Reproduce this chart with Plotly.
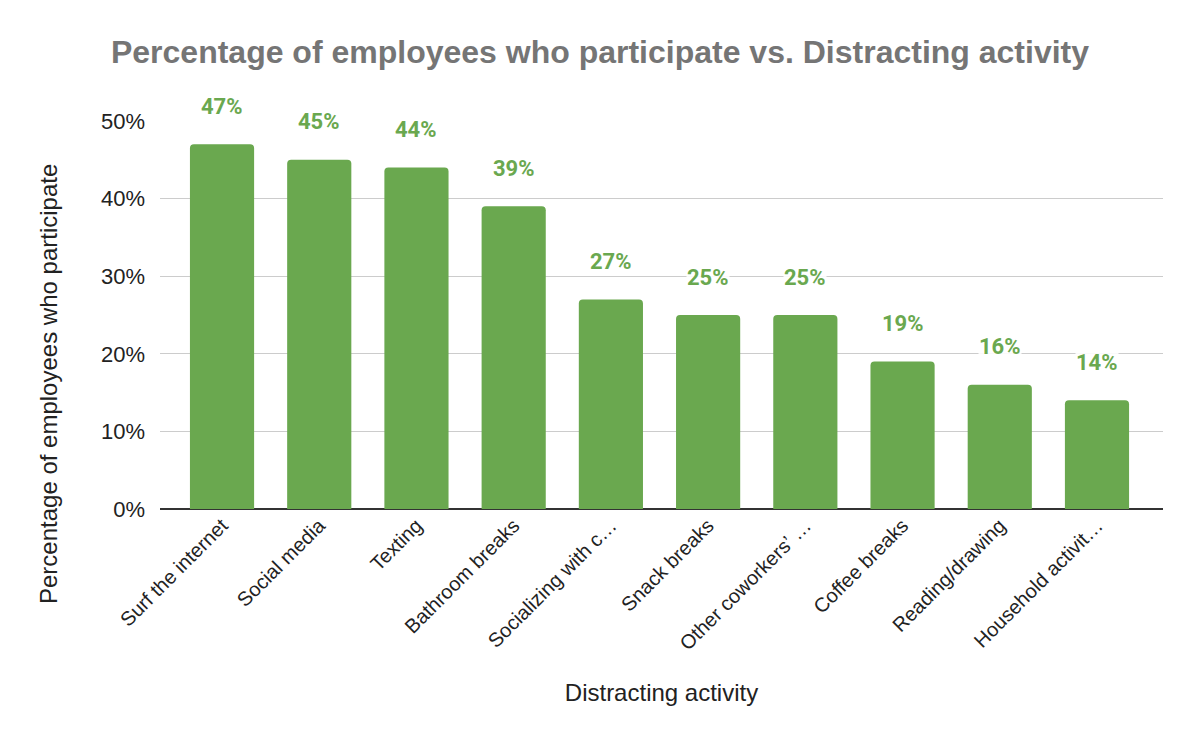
import plotly.graph_objects as go

categories = ["Surf the internet", "Social media", "Texting", "Bathroom breaks",
              "Socializing with c…", "Snack breaks", "Other coworkers’ …",
              "Coffee breaks", "Reading/drawing", "Household activit…"]
values = [0.47, 0.45, 0.44, 0.39, 0.27, 0.25, 0.25, 0.19, 0.16, 0.14]
tick_vals = [0, 0.1, 0.2, 0.3, 0.4, 0.5]
tick_text = ["0%", "10%", "20%", "30%", "40%", "50%"]

GREEN = "#6aa84f"
FONT = "Liberation Sans, Arial, sans-serif"

fig = go.Figure()
fig.add_trace(go.Bar(
    x=list(range(len(categories))), y=values,
    marker=dict(color=GREEN, line=dict(width=0)),
    width=0.66,
    hoverinfo="skip",
))

for i, v in enumerate(values):
    fig.add_annotation(
        x=i, y=v, text=f"<b>{round(v*100)}%</b>", showarrow=False,
        yshift=38, font=dict(family="Roboto, " + FONT, size=22, color=GREEN),
        bgcolor="rgba(255,255,255,0.9)", borderpad=0,
    )

# y-axis title (placed like the reference: centred lower than the plot area)
fig.add_annotation(
    text="Percentage of employees who participate", textangle=-90,
    xref="paper", yref="paper", x=(48 - 160) / 1003, y=(509 - 384) / 388,
    xanchor="center", yanchor="middle", showarrow=False,
    font=dict(family=FONT, size=24, color="#222222"),
)

fig.update_layout(
    width=1200, height=742,
    margin=dict(l=160, r=37, t=121, b=233),
    paper_bgcolor="white", plot_bgcolor="white",
    barcornerradius=4,
    showlegend=False,
    title=dict(text="<b>Percentage of employees who participate vs. Distracting activity</b>",
               x=0.5, xanchor="center", y=1 - 52/742, yanchor="middle",
               font=dict(family=FONT, size=32, color="#757575")),
    font=dict(family=FONT, color="#222222"),
)
fig.update_xaxes(
    tickmode="array", tickvals=list(range(len(categories))), ticktext=categories,
    tickangle=-45, tickfont=dict(family=FONT, size=20, color="#222222"),
    range=[-0.638, 9.679], showgrid=False, showline=False, zeroline=False,
    ticks="", title=dict(text="Distracting activity", font=dict(family=FONT, size=24, color="#222222"),
                         standoff=30),
)
fig.update_yaxes(
    range=[0, 0.5], tickvals=tick_vals, ticktext=tick_text,
    tickfont=dict(family=FONT, size=22, color="#222222"),
    showgrid=True, gridcolor="#cccccc", gridwidth=1,
    zeroline=True, zerolinecolor="#333333", zerolinewidth=2,
    showline=False, ticks="", ticklabelstandoff=14,
)

fig.write_html("out.html")
